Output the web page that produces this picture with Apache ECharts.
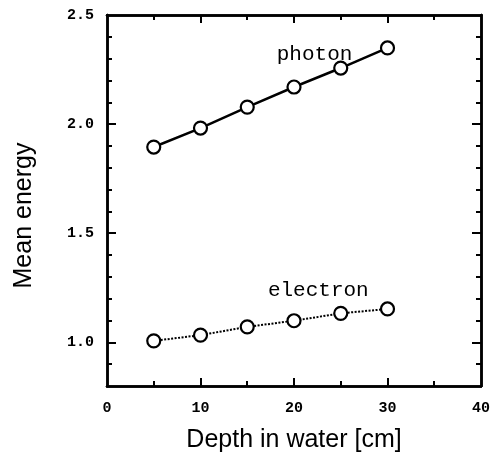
<!DOCTYPE html>
<html><head><meta charset="utf-8">
<script src="https://cdn.jsdelivr.net/npm/echarts@6/dist/echarts.min.js"></script>
<style>html,body{margin:0;padding:0;background:#fff}#c{width:493px;height:461px}</style>
</head><body><div id="c"></div>
<script>
const depths = [5, 10, 15, 20, 25, 30];
const photon = [1.895, 1.982, 2.078, 2.170, 2.257, 2.349];
const electron = [1.007, 1.033, 1.071, 1.099, 1.133, 1.153];
const xLabelValues = [0, 10, 20, 30, 40];
const xMajorTicks = [10, 20, 30];
const xMinorTicks = [5, 15, 25, 35];
const yLabelValues = [1.0, 1.5, 2.0, 2.5];
const yMajorTicks = [1.0, 1.5, 2.0];
const yMinorTicks = [0.9, 1.1, 1.2, 1.3, 1.4, 1.6, 1.7, 1.8, 1.9, 2.1, 2.2, 2.3, 2.4];
const xTitle = 'Depth in water [cm]';
const yTitle = 'Mean energy';
const photonLabel = {name: 'photon', x: 22.2, y: 2.32};
const electronLabel = {name: 'electron', x: 22.6, y: 1.24};

const mono = 'Liberation Mono';
const sans = 'Liberation Sans';
const XMIN = 0, XMAX = 40, YMIN = 0.8, YMAX = 2.5;

function xAx(pos, ticks, len, showLabel, extra) {
  return Object.assign({
    type: 'value', position: pos, min: XMIN, max: XMAX, gridIndex: 0,
    axisLine: {show: true, onZero: false, lineStyle: {color: '#000', width: 2.5}},
    axisTick: {show: true, inside: true, length: len, customValues: ticks, lineStyle: {color: '#000', width: 2}},
    axisLabel: showLabel ? {show: true, customValues: xLabelValues, fontFamily: mono, fontSize: 15, fontWeight: 'bold', color: '#000', margin: 15} : {show: false},
    splitLine: {show: false}
  }, extra || {});
}
function yAx(pos, ticks, len, showLabel, extra) {
  return Object.assign({
    type: 'value', position: pos, min: YMIN, max: YMAX, gridIndex: 0,
    axisLine: {show: true, onZero: false, lineStyle: {color: '#000', width: 2.5}},
    axisTick: {show: true, inside: true, length: len, customValues: ticks, lineStyle: {color: '#000', width: 2}},
    axisLabel: showLabel ? {show: true, customValues: yLabelValues, fontFamily: mono, fontSize: 15, fontWeight: 'bold', color: '#000', margin: 13,
      formatter: v => v.toFixed(1)} : {show: false},
    splitLine: {show: false}
  }, extra || {});
}

const chart = echarts.init(document.getElementById('c'), null, {renderer: 'canvas'});
chart.setOption({
  backgroundColor: '#fff',
  animation: false,
  grid: {left: 107, right: 12, top: 15, bottom: 75},
  xAxis: [
    xAx('bottom', xMajorTicks, 8, true, {name: xTitle, nameLocation: 'middle', nameGap: 42,
      nameTextStyle: {fontFamily: sans, fontSize: 25, color: '#000'}}),
    xAx('bottom', xMinorTicks, 5, false),
    xAx('top', xMajorTicks, 8, false),
    xAx('top', xMinorTicks, 5, false)
  ],
  yAxis: [
    yAx('left', yMajorTicks, 9, true, {name: yTitle, nameLocation: 'middle', nameGap: 70,
      nameTextStyle: {fontFamily: sans, fontSize: 25, color: '#000', padding: [0, 30, 0, 0]}}),
    yAx('left', yMinorTicks, 5, false),
    yAx('right', yMajorTicks, 9, false),
    yAx('right', yMinorTicks, 5, false)
  ],
  series: [
    {
      name: 'photon', type: 'line', xAxisIndex: 0, yAxisIndex: 0,
      data: depths.map((d, i) => [d, photon[i]]),
      symbol: 'circle', symbolSize: 13,
      itemStyle: {color: '#fff', borderColor: '#000', borderWidth: 2.2},
      lineStyle: {color: '#000', width: 2.5, type: 'solid'},
      markPoint: {symbol: 'circle', symbolSize: 0, silent: true,
        label: {show: true, position: 'inside', formatter: '{b}', fontFamily: mono, fontSize: 21, color: '#000'},
        data: [{name: photonLabel.name, coord: [photonLabel.x, photonLabel.y]}]}
    },
    {
      name: 'electron', type: 'line', xAxisIndex: 0, yAxisIndex: 0,
      data: depths.map((d, i) => [d, electron[i]]),
      symbol: 'circle', symbolSize: 13,
      itemStyle: {color: '#fff', borderColor: '#000', borderWidth: 2.2},
      lineStyle: {color: '#000', width: 2, type: [2, 1.5]},
      markPoint: {symbol: 'circle', symbolSize: 0, silent: true,
        label: {show: true, position: 'inside', formatter: '{b}', fontFamily: mono, fontSize: 21, color: '#000'},
        data: [{name: electronLabel.name, coord: [electronLabel.x, electronLabel.y]}]}
    }
  ]
});
</script></body></html>
